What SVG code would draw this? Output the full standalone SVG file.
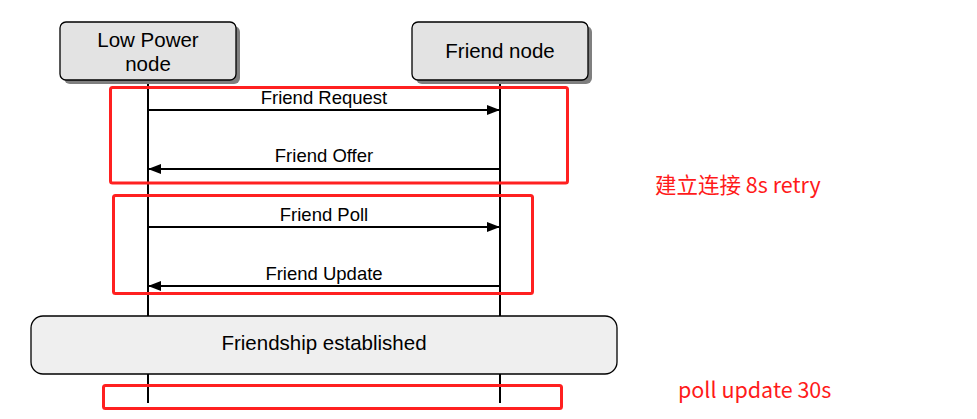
<svg xmlns="http://www.w3.org/2000/svg" width="977" height="419" viewBox="0 0 977 419">
<style>
.node{fill:#e3e3e3;stroke:#000;stroke-width:1.3}
.shadow{fill:#7f7f7f}
.t{font-family:"Liberation Sans",Arial,sans-serif;fill:#000;text-anchor:middle}
.big{font-size:20.5px}
.lbl{font-size:18.5px}
.life{stroke:#000;stroke-width:2}
.msg{stroke:#000;stroke-width:2;fill:none}
.red{fill:none;stroke:#ff2020;stroke-width:3}
.note{font-family:"Microsoft YaHei","Noto Sans CJK SC",sans-serif;font-size:21.5px;fill:#ff1a1a}
</style>
<defs>
<marker id="ah" viewBox="0 0 13 10" refX="13" refY="5" markerWidth="13" markerHeight="10" markerUnits="userSpaceOnUse" orient="auto">
<path d="M0,0 L13,5 L0,10 Z" fill="#000"/>
</marker>
</defs>
<rect width="977" height="419" fill="#fff"/>
<text x="40" y="-4" style="font-family:'Liberation Sans',sans-serif;font-size:14px;fill:#1a73e8">g</text>
<g id="lifelines">
<line class="life" x1="148" y1="80" x2="148" y2="403"/>
<line class="life" x1="500" y1="80" x2="500" y2="403"/>
</g>
<g id="lpn">
<rect class="shadow" x="64" y="26" width="176" height="58" rx="6"/>
<rect class="node" x="60" y="22" width="176" height="58" rx="6"/>
<text class="t big" x="148" y="47">Low Power</text>
<text class="t big" x="148" y="71">node</text>
</g>
<g id="fn">
<rect class="shadow" x="416" y="26" width="176" height="58" rx="6"/>
<rect class="node" x="412" y="22" width="176" height="58" rx="6"/>
<text class="t big" x="500" y="58">Friend node</text>
</g>
<g id="connectors">
<line class="msg" x1="148" y1="110" x2="500" y2="110" marker-end="url(#ah)"/>
<line class="msg" x1="500" y1="169" x2="148" y2="169" marker-end="url(#ah)"/>
<line class="msg" x1="148" y1="227" x2="500" y2="227" marker-end="url(#ah)"/>
<line class="msg" x1="500" y1="286" x2="148" y2="286" marker-end="url(#ah)"/>
</g>
<g id="labels">
<text class="t lbl" x="324" y="104">Friend Request</text>
<text class="t lbl" x="324" y="162">Friend Offer</text>
<text class="t lbl" x="324" y="221">Friend Poll</text>
<text class="t lbl" x="324" y="280">Friend Update</text>
</g>
<g id="established">
<rect x="31" y="316" width="586" height="58" rx="12" fill="#efefef" stroke="#000" stroke-width="1.3"/>
<text class="t big" x="324" y="350">Friendship established</text>
</g>
<g id="annotations">
<rect class="red" x="110.5" y="87.5" width="457" height="95.5" rx="2"/>
<rect class="red" x="113.5" y="195.5" width="419" height="98" rx="2"/>
<rect class="red" x="103.5" y="385.5" width="458" height="23" rx="2"/>
<text class="note" x="655" y="193">建立连接 8s retry</text>
<text class="note" x="678" y="398">poll update 30s</text>
</g>
</svg>
